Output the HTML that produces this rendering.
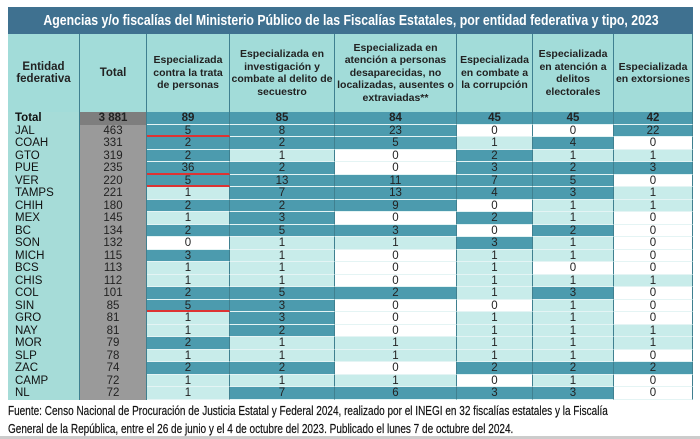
<!DOCTYPE html>
<html><head><meta charset="utf-8"><style>
body{margin:0;width:700px;height:439px;background:#fff;position:relative;overflow:hidden;font-family:"Liberation Sans",Arial,sans-serif}
#title{position:absolute;left:8px;top:7px;width:685px;height:27px;background:#3f7190;overflow:hidden}
#title span{position:absolute;left:50%;top:0;color:#fff;font-weight:bold;font-size:15px;line-height:27px;white-space:nowrap;transform:translateX(-50%) scaleX(0.82)}
#g{position:absolute;left:8px;top:34px;width:685px;display:grid;grid-template-columns:72px 67px 83px 105px 122px 76px 81px 79px;grid-template-rows:78px repeat(23,12.52px)}
#g div{text-align:center;font-size:11.5px;line-height:12.5px;color:#222;overflow:hidden;white-space:nowrap;border-right:1px solid #3f8090;box-sizing:border-box;border-bottom:1px solid #e4f4f4}
#g div.h{background:#a2dcd9;font-size:10.5px;font-weight:bold;white-space:normal;display:flex;align-items:center;justify-content:center;border-bottom:none;line-height:12.5px}
#g div.e{background:#a6dcd8;text-align:left;padding-left:7px;color:#111;border-bottom:none}
#g div.t{background:#9a9a9a;border-bottom:none}
#g .b{font-weight:bold}
#g div.tt{background:#7e7e7e}
.d{background:#4c9bae}
.l{background:#c8ecea}
.w{background:#fff}
#g div.r{border-bottom:2px solid #d33}
#foot{position:absolute;left:8px;top:402px;font-size:13px;line-height:18px;color:#111;white-space:nowrap;transform:scaleX(0.77);transform-origin:left top;-webkit-text-stroke:0.2px #111}
#bl{position:absolute;left:0;top:436px;width:700px;height:3px;background:#ccc}
</style></head><body>
<div id="title"><span>Agencias y/o fiscalías del Ministerio Público de las Fiscalías Estatales, por entidad federativa y tipo, 2023</span></div>
<div id="g">
<div class="h" style="font-size:11.5px">Entidad<br>federativa</div><div class="h" style="font-size:11.5px">Total</div><div class="h">Especializada<br>contra la trata<br>de personas</div><div class="h">Especializada en<br>investigación y<br>combate al delito de<br>secuestro</div><div class="h">Especializada en<br>atención a personas<br>desaparecidas, no<br>localizadas, ausentes o<br>extraviadas**</div><div class="h">Especializada<br>en combate a<br>la corrupción</div><div class="h">Especializada<br>en atención a<br>delitos<br>electorales</div><div class="h">Especializada<br>en extorsiones</div>
<div class="e b">Total</div><div class="t tt b">3 881</div><div class="d b">89</div><div class="d b">85</div><div class="d b">84</div><div class="d b">45</div><div class="d b">45</div><div class="d b">42</div>
<div class="e">JAL</div><div class="t">463</div><div class="d r">5</div><div class="d">8</div><div class="d">23</div><div class="w">0</div><div class="w">0</div><div class="d">22</div>
<div class="e">COAH</div><div class="t">331</div><div class="d">2</div><div class="d">2</div><div class="d">5</div><div class="l">1</div><div class="d">4</div><div class="w">0</div>
<div class="e">GTO</div><div class="t">319</div><div class="d">2</div><div class="l">1</div><div class="w">0</div><div class="d">2</div><div class="l">1</div><div class="l">1</div>
<div class="e">PUE</div><div class="t">235</div><div class="d r">36</div><div class="d">2</div><div class="w">0</div><div class="d">3</div><div class="d">2</div><div class="d">3</div>
<div class="e">VER</div><div class="t">220</div><div class="d r">5</div><div class="d">13</div><div class="d">11</div><div class="d">7</div><div class="d">5</div><div class="w">0</div>
<div class="e">TAMPS</div><div class="t">221</div><div class="l">1</div><div class="d">7</div><div class="d">13</div><div class="d">4</div><div class="d">3</div><div class="l">1</div>
<div class="e">CHIH</div><div class="t">180</div><div class="d">2</div><div class="d">2</div><div class="d">9</div><div class="w">0</div><div class="l">1</div><div class="l">1</div>
<div class="e">MEX</div><div class="t">145</div><div class="l">1</div><div class="d">3</div><div class="w">0</div><div class="d">2</div><div class="l">1</div><div class="w">0</div>
<div class="e">BC</div><div class="t">134</div><div class="d">2</div><div class="d">5</div><div class="d">3</div><div class="w">0</div><div class="d">2</div><div class="w">0</div>
<div class="e">SON</div><div class="t">132</div><div class="w">0</div><div class="l">1</div><div class="l">1</div><div class="d">3</div><div class="l">1</div><div class="w">0</div>
<div class="e">MICH</div><div class="t">115</div><div class="d">3</div><div class="l">1</div><div class="w">0</div><div class="l">1</div><div class="l">1</div><div class="w">0</div>
<div class="e">BCS</div><div class="t">113</div><div class="l">1</div><div class="l">1</div><div class="w">0</div><div class="l">1</div><div class="w">0</div><div class="w">0</div>
<div class="e">CHIS</div><div class="t">112</div><div class="l">1</div><div class="l">1</div><div class="w">0</div><div class="l">1</div><div class="l">1</div><div class="l">1</div>
<div class="e">COL</div><div class="t">101</div><div class="d">2</div><div class="d">5</div><div class="d">2</div><div class="l">1</div><div class="d">3</div><div class="w">0</div>
<div class="e">SIN</div><div class="t">85</div><div class="d r">5</div><div class="d">3</div><div class="w">0</div><div class="w">0</div><div class="l">1</div><div class="w">0</div>
<div class="e">GRO</div><div class="t">81</div><div class="l">1</div><div class="d">3</div><div class="w">0</div><div class="l">1</div><div class="l">1</div><div class="w">0</div>
<div class="e">NAY</div><div class="t">81</div><div class="l">1</div><div class="d">2</div><div class="w">0</div><div class="l">1</div><div class="l">1</div><div class="l">1</div>
<div class="e">MOR</div><div class="t">79</div><div class="d">2</div><div class="l">1</div><div class="l">1</div><div class="l">1</div><div class="l">1</div><div class="l">1</div>
<div class="e">SLP</div><div class="t">78</div><div class="l">1</div><div class="l">1</div><div class="l">1</div><div class="l">1</div><div class="l">1</div><div class="w">0</div>
<div class="e">ZAC</div><div class="t">74</div><div class="d">2</div><div class="d">2</div><div class="w">0</div><div class="d">2</div><div class="d">2</div><div class="d">2</div>
<div class="e">CAMP</div><div class="t">72</div><div class="l">1</div><div class="l">1</div><div class="l">1</div><div class="w">0</div><div class="l">1</div><div class="w">0</div>
<div class="e">NL</div><div class="t">72</div><div class="l">1</div><div class="d">7</div><div class="d">6</div><div class="d">3</div><div class="d">3</div><div class="w">0</div>
</div>
<div id="foot">Fuente: Censo Nacional de Procuración de Justicia Estatal y Federal 2024, realizado por el INEGI en 32 fiscalías estatales y la Fiscalía<br>General de la República, entre el 26 de junio y el 4 de octubre del 2023. Publicado el lunes 7 de octubre del 2024.</div>
<div id="bl"></div>
</body></html>
